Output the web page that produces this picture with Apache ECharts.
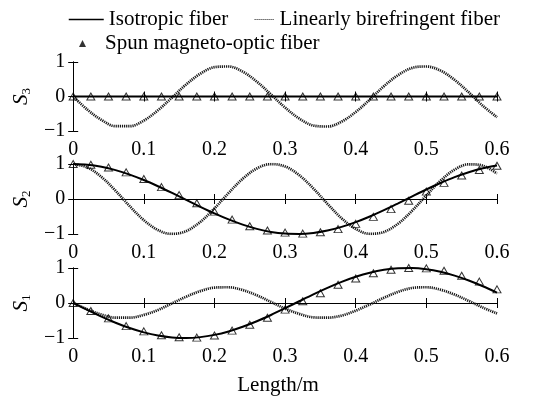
<!DOCTYPE html>
<html>
<head>
<meta charset="utf-8">
<script src="https://cdn.jsdelivr.net/npm/echarts@6/dist/echarts.min.js"></script>
<style>
  html, body { margin: 0; padding: 0; background: #fff; }
  #chart { width: 546px; height: 403px; }
</style>
</head>
<body>
<div id="chart"></div>
<script>
// Stokes parameters along the fibre length
const lengthLine = [0, 0.02, 0.04, 0.06, 0.08, 0.1, 0.12, 0.14, 0.16, 0.18, 0.2, 0.22, 0.24, 0.26, 0.28, 0.3,
  0.32, 0.34, 0.36, 0.38, 0.4, 0.42, 0.44, 0.46, 0.48, 0.5, 0.52, 0.54, 0.56, 0.58, 0.6];
const lengthSpun = [0, 0.025, 0.05, 0.075, 0.1, 0.125, 0.15, 0.175, 0.2, 0.225, 0.25, 0.275, 0.3,
  0.325, 0.35, 0.375, 0.4, 0.425, 0.45, 0.475, 0.5, 0.525, 0.55, 0.575, 0.6];

// Isotropic fiber
const isoS3 = [0, 0, 0, 0, 0, 0, 0, 0, 0, 0, 0, 0, 0, 0, 0, 0, 0, 0, 0, 0, 0, 0, 0, 0, 0, 0, 0, 0, 0, 0, 0];
const isoS2 = [1, 0.98, 0.921, 0.826, 0.698, 0.543, 0.365, 0.174, -0.025, -0.223, -0.412, -0.584, -0.733,
  -0.853, -0.94, -0.989, -0.999, -0.969, -0.901, -0.797, -0.661, -0.5, -0.319, -0.124, 0.075, 0.271,
  0.456, 0.624, 0.766, 0.878, 0.956];
const isoS1 = [0, -0.198, -0.388, -0.563, -0.716, -0.84, -0.931, -0.985, -1, -0.975, -0.911, -0.812, -0.68,
  -0.522, -0.342, -0.149, 0.05, 0.247, 0.434, 0.604, 0.75, 0.866, 0.948, 0.992, 0.997, 0.963, 0.89,
  0.782, 0.643, 0.478, 0.295];

// Linearly birefringent fiber
const birS3 = [0, -0.38, -0.68, -0.86, -0.86, -0.7, -0.4, -0.03, 0.35, 0.66, 0.85, 0.87, 0.72, 0.43, 0.06,
  -0.32, -0.64, -0.84, -0.87, -0.73, -0.45, -0.09, 0.3, 0.62, 0.83, 0.87, 0.75, 0.48, 0.12, -0.27, -0.6];
const birS2 = [1, 0.903, 0.631, 0.236, -0.204, -0.605, -0.888, -0.999, -0.917, -0.656, -0.269, 0.171, 0.578,
  0.872, 0.998, 0.93, 0.681, 0.301, -0.138, -0.551, -0.856, -0.995, -0.941, -0.705, -0.332, 0.105,
  0.522, 0.838, 0.991, 0.952, 0.728];
const birS1 = [0, -0.18, -0.33, -0.42, -0.42, -0.34, -0.2, -0.01, 0.18, 0.34, 0.44, 0.45, 0.37, 0.22, 0.03,
  -0.16, -0.31, -0.41, -0.42, -0.36, -0.22, -0.04, 0.15, 0.32, 0.43, 0.45, 0.38, 0.24, 0.06, -0.13, -0.3];

// Spun magneto-optic fiber
const spunS3 = [0, 0, 0, 0, 0, 0, 0, 0, 0, 0, 0, 0, 0, 0, 0, 0, 0, 0, 0, 0, 0, 0, 0, 0, 0];
const spunS2 = [1, 0.98, 0.9, 0.76, 0.57, 0.34, 0.11, -0.12, -0.36, -0.59, -0.78, -0.9, -0.96, -0.99, -0.95,
  -0.86, -0.71, -0.51, -0.29, -0.05, 0.21, 0.46, 0.67, 0.83, 0.95];
const spunS1 = [0, -0.23, -0.44, -0.66, -0.81, -0.92, -0.98, -0.99, -0.93, -0.79, -0.62, -0.42, -0.19, 0.05,
  0.28, 0.52, 0.7, 0.85, 0.95, 1, 0.99, 0.92, 0.78, 0.61, 0.39];

const xTickLabels = ['0', '0.1', '0.2', '0.3', '0.4', '0.5', '0.6'];
const yTickLabels = ['\u22121', '0', '1'];
const panelNames = ['3', '2', '1'];
const seriesNames = ['Isotropic fiber', 'Linearly birefringent fiber', 'Spun magneto-optic fiber'];

const panels = [
  { sub: panelNames[0], iso: isoS3, bir: birS3, spun: spunS3 },
  { sub: panelNames[1], iso: isoS2, bir: birS2, spun: spunS2 },
  { sub: panelNames[2], iso: isoS1, bir: birS1, spun: spunS1 }
];

const FONT = 'Liberation Serif';
const SOLID = '#000';
const DOTTED = '#1a1a1a';
const pairs = (xs, ys) => xs.map((x, i) => [x, ys[i]]);

const gridBoxes = [
  { left: 64, right: 49, top: 62, height: 69 },
  { left: 64, right: 49, top: 164, height: 70 },
  { left: 64, right: 49, top: 268, height: 70 }
];

const axisLineStyle = { lineStyle: { color: '#000', width: 1 } };
const tickIn = { show: true, inside: true, length: 5, lineStyle: { color: '#000', width: 1 } };

const xAxes = [];
const yAxes = [];
const series = [];

panels.forEach((p, i) => {
  xAxes.push({
    type: 'value', gridIndex: i, min: 0, max: 0.6, interval: 0.1, position: 'bottom',
    axisLine: axisLineStyle, axisTick: tickIn, splitLine: { show: false },
    axisLabel: {
      margin: 9, color: '#000', fontFamily: FONT, fontSize: 20,
      formatter: v => xTickLabels[Math.round(v * 10)]
    },
    name: i === 2 ? 'Length/m' : '',
    nameLocation: 'middle', nameGap: 37,
    nameTextStyle: { color: '#000', fontFamily: FONT, fontSize: 21, padding: [0, 14, 0, 0] }
  });
  yAxes.push({
    type: 'value', gridIndex: i, min: -1, max: 1, interval: 1, position: 'left',
    axisLine: axisLineStyle, axisTick: tickIn, splitLine: { show: false },
    axisLabel: {
      margin: 8, color: '#000', fontFamily: FONT, fontSize: 20,
      formatter: v => yTickLabels[Math.round(v) + 1]
    },
    name: '{s|S}{b|' + p.sub + '}',
    nameLocation: 'middle', nameGap: 38, nameRotate: 90,
    nameTextStyle: {
      rich: {
        s: { fontFamily: FONT, fontSize: 21, fontStyle: 'italic', color: '#000', lineHeight: 22, verticalAlign: 'top' },
        b: { fontFamily: FONT, fontSize: 13, color: '#000', lineHeight: 14, padding: [12, 0, 0, 0], verticalAlign: 'bottom' }
      }
    }
  });

  series.push({
    type: 'line', name: seriesNames[0], xAxisIndex: i, yAxisIndex: i,
    data: pairs(lengthLine, p.iso), symbol: 'none', smooth: 0.3,
    itemStyle: { color: SOLID },
    lineStyle: { color: SOLID, width: 2 }, z: 3
  });
  series.push({
    type: 'line', name: seriesNames[1], xAxisIndex: i, yAxisIndex: i,
    data: pairs(lengthLine, p.bir), symbol: 'none', smooth: 0.35,
    itemStyle: { color: DOTTED },
    lineStyle: { color: DOTTED, width: 2.7, type: [1.2, 0.9] }, z: 2
  });
  series.push({
    type: 'scatter', name: seriesNames[2], xAxisIndex: i, yAxisIndex: i,
    data: pairs(lengthSpun, p.spun), symbol: 'triangle', symbolSize: [8, 7],
    itemStyle: { color: 'rgba(0,0,0,0)', borderColor: '#000', borderWidth: 1 }, z: 4
  });
});

// mirrored frame: top and right axes carrying inward ticks only
panels.forEach((p, i) => {
  xAxes.push({
    type: 'value', gridIndex: i, min: 0, max: 0.6, interval: 0.1, position: 'top',
    axisLine: axisLineStyle, axisTick: tickIn, axisLabel: { show: false }, splitLine: { show: false }
  });
  yAxes.push({
    type: 'value', gridIndex: i, min: -1, max: 1, interval: 1, position: 'right',
    axisLine: axisLineStyle, axisTick: tickIn, axisLabel: { show: false }, splitLine: { show: false }
  });
});

const legendText = { color: '#000', fontFamily: FONT, fontSize: 21 };

const option = {
  animation: false,
  backgroundColor: '#fff',
  grid: gridBoxes.map(g => Object.assign({ containLabel: false }, g)),
  xAxis: xAxes,
  yAxis: yAxes,
  legend: [
    {
      left: 68, top: 9, padding: 0, itemWidth: 35, itemHeight: 14,
      data: [{
        name: seriesNames[0],
        itemStyle: { opacity: 0 },
        lineStyle: { color: SOLID, width: 1.5 }
      }],
      textStyle: legendText
    },
    {
      left: 254, top: 9, padding: 0, itemWidth: 20, itemHeight: 14,
      data: [{
        name: seriesNames[1],
        itemStyle: { opacity: 0 },
        lineStyle: { color: DOTTED, width: 1.2, type: [1, 1] }
      }],
      textStyle: legendText
    },
    {
      left: 79, top: 33, padding: 0, itemWidth: 7, itemHeight: 7,
      data: [{ name: seriesNames[2], itemStyle: { color: '#000', borderWidth: 0 } }],
      textStyle: Object.assign({ padding: [0, 0, 0, 14] }, legendText)
    }
  ],
  series: series
};

const chart = echarts.init(document.getElementById('chart'), null, { renderer: 'canvas' });
chart.setOption(option);
</script>
</body>
</html>
